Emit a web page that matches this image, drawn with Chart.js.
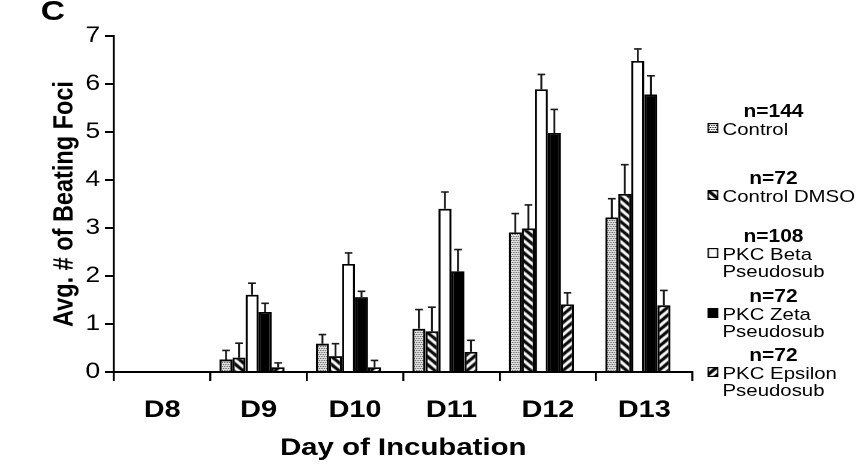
<!DOCTYPE html>
<html>
<head>
<meta charset="utf-8">
<script src="https://cdn.jsdelivr.net/npm/chart.js@4.4.0/dist/chart.umd.min.js"></script>
<style>
html, body { margin: 0; padding: 0; background: #fff; overflow: hidden; }
#wrap {
    position: absolute; left: 0; top: 0; width: 718px; height: 468px;
    transform-origin: 0 0; transform: scaleX(1.1992);
    font-family: "Liberation Sans", Arial, sans-serif; color: #000;
}
#chart { position: absolute; left: 0; top: 0; width: 718px; height: 468px; }
#panel { position: absolute; left: 34px; top: -5px; font-size: 28px; font-weight: bold; line-height: 32px; }
.n { position: absolute; width: 100px; text-align: center; font-size: 17.5px; font-weight: bold; line-height: 17.5px; }
.lbl { position: absolute; font-size: 17px; line-height: 17.5px; white-space: nowrap; }
.sw { position: absolute; }
</style>
</head>
<body>
<div id="wrap">
    <canvas id="chart" width="718" height="468" style="width:718px;height:468px"></canvas>
    <div id="panel">C</div>
    <div id="legend"></div>
</div>
<script>
//Data
const days = ['D8', 'D9', 'D10', 'D11', 'D12', 'D13'];
const seriesNames = [['Control'], ['Control DMSO'], ['PKC Beta', 'Pseudosub'], ['PKC Zeta', 'Pseudosub'], ['PKC Epsilon', 'Pseudosub']];
const sampleSizes = ['n=144', 'n=72', 'n=108', 'n=72', 'n=72'];

const control = [0, 0.26, 0.59, 0.90, 2.91, 3.22];
const controlDmso = [0, 0.30, 0.33, 0.85, 2.99, 3.71];
const pkcBeta = [0, 1.61, 2.25, 3.40, 5.89, 6.48];
const pkcZeta = [0, 1.25, 1.56, 2.10, 4.98, 5.78];
const pkcEpsilon = [0, 0.10, 0.10, 0.42, 1.41, 1.39];

// upper error bar sizes
const controlErr = [0, 0.19, 0.19, 0.40, 0.39, 0.39];
const controlDmsoErr = [0, 0.30, 0.26, 0.50, 0.49, 0.61];
const pkcBetaErr = [0, 0.24, 0.23, 0.35, 0.31, 0.25];
const pkcZetaErr = [0, 0.18, 0.12, 0.45, 0.49, 0.39];
const pkcEpsilonErr = [0, 0.09, 0.14, 0.24, 0.24, 0.31];

const yMin = 0, yMax = 7, yStep = 1;

//Layout (unstretched px, the whole figure is stretched 1.2x horizontally)
const legendTops = [103, 170, 228, 288, 347];
const fontFamily = '"Liberation Sans", Arial, sans-serif';
Chart.defaults.font.family = fontFamily;
Chart.defaults.color = '#000';

/**
 * Makes a small tile canvas to be used as a fill pattern.
 */
function makeTile(size, draw) {
    let c = document.createElement('canvas');
    c.width = size;
    c.height = size;
    let g = c.getContext('2d');
    g.fillStyle = '#fff';
    g.fillRect(0, 0, size, size);
    draw(g, size);
    return c;
}

let dotTile = makeTile(4, (g) => {
    g.fillStyle = '#000';
    g.fillRect(0, 0, 1, 1);
    g.fillRect(2, 0, 1, 1);
    g.fillRect(1, 2, 1, 1);
    g.fillRect(3, 2, 1, 1);
});
let backTile = makeTile(8, (g, s) => {
    g.strokeStyle = '#000';
    g.lineWidth = 3;
    g.beginPath();
    for (let k of [-s, 0, s]) {
        g.moveTo(k - 1, -1);
        g.lineTo(k + s + 1, s + 1);
    }
    g.stroke();
});
let fwdTile = makeTile(8, (g, s) => {
    g.strokeStyle = '#000';
    g.lineWidth = 3;
    g.beginPath();
    for (let k of [-s, 0, s]) {
        g.moveTo(k - 1, s + 1);
        g.lineTo(k + s + 1, -1);
    }
    g.stroke();
});

let ctx = document.getElementById('chart').getContext('2d');
let fills = [
    ctx.createPattern(dotTile, 'repeat'),
    ctx.createPattern(backTile, 'repeat'),
    '#fff',
    '#000',
    ctx.createPattern(fwdTile, 'repeat')
];
let values = [control, controlDmso, pkcBeta, pkcZeta, pkcEpsilon];
let errors = [controlErr, controlDmsoErr, pkcBetaErr, pkcZetaErr, pkcEpsilonErr];

let datasets = values.map((v, i) => ({
    label: seriesNames[i].join(' '),
    data: v,
    errors: errors[i],
    backgroundColor: fills[i],
    borderColor: '#000',
    borderWidth: 1.8
}));
// empty slot after the five bars, the original groups sit a bit left of the tick centre
datasets.push({ label: '', data: days.map(() => null), errors: [] });

const errorBars = {
    id: 'errorBars',
    afterDatasetsDraw(chart) {
        let c = chart.ctx;
        let yScale = chart.scales.y;
        c.save();
        c.strokeStyle = '#1a1a1a';
        c.lineWidth = 1.6;
        chart.data.datasets.forEach((ds, i) => {
            let meta = chart.getDatasetMeta(i);
            meta.data.forEach((bar, j) => {
                let e = ds.errors[j];
                if (!e) return;
                let top = yScale.getPixelForValue(ds.data[j] + e);
                c.beginPath();
                c.moveTo(bar.x, bar.y);
                c.lineTo(bar.x, top);
                c.moveTo(bar.x - 3.2, top);
                c.lineTo(bar.x + 3.2, top);
                c.stroke();
            });
        });
        c.restore();
    }
};

new Chart(ctx, {
    type: 'bar',
    data: { labels: days, datasets: datasets },
    options: {
        responsive: false,
        devicePixelRatio: 2,
        animation: false,
        layout: { padding: { left: 0, right: 140.5, top: 36, bottom: 0 } },
        datasets: { bar: { categoryPercentage: 0.81, barPercentage: 1 } },
        plugins: { legend: { display: false }, tooltip: { enabled: false } },
        scales: {
            x: {
                grid: { offset: true, drawOnChartArea: false, color: '#000', lineWidth: 1.7, tickLength: 9 },
                border: { color: '#000', width: 2 },
                ticks: { color: '#000', font: { size: 24, weight: 'bold' }, padding: 15 },
                title: {
                    display: true, text: 'Day of Incubation', color: '#000',
                    font: { size: 24.5, weight: 'bold' }, padding: { top: 0, bottom: 5 }
                },
                afterFit: (s) => { s.height = 96; }
            },
            y: {
                min: yMin,
                max: yMax,
                ticks: { stepSize: yStep, color: '#000', font: { size: 22 }, padding: 4 },
                grid: { drawOnChartArea: false, color: '#000', lineWidth: 2, tickLength: 7.5 },
                border: { color: '#000', width: 1.7 },
                title: {
                    display: true, text: 'Avg. # of Beating Foci', color: '#000',
                    font: { size: 23.5, weight: 'bold' }, padding: { top: 40, bottom: 0 }
                },
                afterFit: (s) => { s.width = 95; }
            }
        }
    },
    plugins: [errorBars]
});

// legend
let legend = document.getElementById('legend');
seriesNames.forEach((lines, i) => {
    let top = legendTops[i];
    let n = document.createElement('div');
    n.className = 'n';
    n.style.left = '595px';
    n.style.top = top + 'px';
    n.textContent = sampleSizes[i];
    legend.appendChild(n);

    let sw = document.createElement('canvas');
    sw.className = 'sw';
    sw.width = 9;
    sw.height = 10;
    sw.style.left = '590px';
    sw.style.top = (top + 20) + 'px';
    let g = sw.getContext('2d');
    g.fillStyle = typeof fills[i] === 'string' ? fills[i] : g.createPattern([dotTile, backTile, null, null, fwdTile][i], 'repeat');
    g.fillRect(0, 0, 9, 10);
    g.strokeStyle = '#000';
    g.lineWidth = 1.2;
    g.strokeRect(0.6, 0.6, 7.8, 8.8);
    legend.appendChild(sw);

    lines.forEach((t, k) => {
        let l = document.createElement('div');
        l.className = 'lbl';
        l.style.left = '602.5px';
        l.style.top = (top + 17.5 * (k + 1)) + 'px';
        l.textContent = t;
        legend.appendChild(l);
    });
});
</script>
</body>
</html>
